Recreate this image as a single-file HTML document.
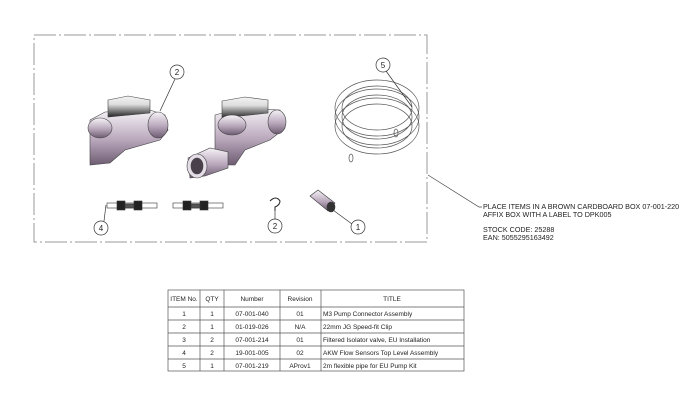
<!DOCTYPE html>
<html><head><meta charset="utf-8"><style>
body{margin:0;background:#fff;width:688px;height:401px;overflow:hidden;font-family:"Liberation Sans",sans-serif}
svg{position:absolute;left:0;top:0}
</style></head><body>
<svg width="688" height="401" viewBox="0 0 688 401" font-family="Liberation Sans, sans-serif">
<defs>
<linearGradient id="pg" x1="0" y1="0" x2="0" y2="1"><stop offset="0" stop-color="#f6f3f7"/><stop offset="0.55" stop-color="#b8a6bb"/><stop offset="1" stop-color="#6e5c72"/></linearGradient>
<linearGradient id="hg" x1="0" y1="0" x2="0" y2="1"><stop offset="0" stop-color="#f4f4f4"/><stop offset="0.4" stop-color="#ddd"/><stop offset="1" stop-color="#222"/></linearGradient>
</defs>
<rect x="34" y="35" width="393" height="207" fill="none" stroke="#999" stroke-width="1" stroke-dasharray="22,3,2,3"/>
<!-- valve 1 -->
<g stroke="#444" stroke-width="0.6">
<path d="M90 120 L105 112 L150 110 L165 115 L168 130 L160 140 L125 150 L110 163 L90 165 Z" fill="url(#pg)"/>
<ellipse cx="158" cy="125" rx="10" ry="13" fill="url(#pg)"/>
<path d="M108 100 L128 96 L150 100 L150 113 L108 117 Z" fill="url(#hg)"/>
<ellipse cx="100" cy="128" rx="12" ry="10" fill="url(#pg)"/>
</g>
<!-- valve 2 -->
<g stroke="#444" stroke-width="0.6">
<path d="M215 115 L240 108 L280 110 L285 128 L270 140 L245 150 L235 165 L215 165 Z" fill="url(#pg)"/>
<ellipse cx="277" cy="122" rx="9" ry="12" fill="url(#pg)"/>
<path d="M222 101 L245 97 L268 100 L268 113 L222 118 Z" fill="url(#hg)"/>
<ellipse cx="232" cy="125" rx="14" ry="10" fill="url(#pg)"/>
<path d="M188 158 L210 148 L228 152 L228 168 L205 176 L190 178 Z" fill="url(#pg)"/>
<ellipse cx="197" cy="166" rx="10" ry="12" fill="#e4dce6"/>
<ellipse cx="197" cy="166" rx="6" ry="8" fill="#4a404c"/>
</g>
<!-- coil -->
<g fill="none" stroke="#555" stroke-width="0.7">
<ellipse cx="377" cy="108" rx="42" ry="28"/>
<ellipse cx="377" cy="108" rx="35" ry="22"/>
<ellipse cx="377" cy="117" rx="42" ry="28"/>
<ellipse cx="377" cy="117" rx="35" ry="22"/>
<ellipse cx="377" cy="126" rx="42" ry="28"/>
<ellipse cx="377" cy="126" rx="35" ry="22"/>
<ellipse cx="396" cy="133" rx="2" ry="4"/>
<ellipse cx="351" cy="158" rx="2" ry="4"/>
</g>
<!-- sensors -->
<g stroke="#333" stroke-width="0.6">
<rect x="107" y="203" width="50" height="5" fill="#fff"/>
<rect x="117" y="201" width="8" height="9" fill="#222"/>
<rect x="134" y="201" width="8" height="9" fill="#222"/>
<rect x="125" y="204" width="9" height="4" fill="#555"/>
<rect x="173" y="203" width="50" height="5" fill="#fff"/>
<rect x="183" y="201" width="8" height="9" fill="#222"/>
<rect x="200" y="201" width="8" height="9" fill="#222"/>
<rect x="191" y="204" width="9" height="4" fill="#555"/>
</g>
<path d="M270 201 Q276 195 280 201 Q280 205 275 207 L275 211" fill="none" stroke="#222" stroke-width="1"/>
<!-- connector -->
<g stroke="#333" stroke-width="0.6">
<path d="M310 196 L318 190 L335 203 L328 211 Z" fill="url(#pg)"/>
<ellipse cx="331" cy="207" rx="4" ry="5" fill="#333"/>
</g>
<!-- balloons -->
<g fill="#fff" stroke="#333" stroke-width="0.7" font-size="8" text-anchor="middle">
<line x1="175" y1="79" x2="160" y2="111"/>
<line x1="386" y1="71" x2="412" y2="107"/>
<line x1="104" y1="221" x2="106" y2="205"/>
<line x1="275" y1="219" x2="275" y2="210"/>
<line x1="352" y1="224" x2="333" y2="210"/>
<circle cx="177" cy="72" r="7"/><text x="177" y="75" fill="#222" stroke="none">2</text>
<circle cx="383" cy="65" r="7"/><text x="383" y="68" fill="#222" stroke="none">5</text>
<circle cx="101" cy="228" r="7"/><text x="101" y="231" fill="#222" stroke="none">4</text>
<circle cx="275" cy="226" r="7"/><text x="275" y="229" fill="#222" stroke="none">2</text>
<circle cx="358" cy="227" r="7"/><text x="358" y="230" fill="#222" stroke="none">1</text>
</g>
<polyline points="428,175 479,207 482,207" fill="none" stroke="#444" stroke-width="0.7"/>
<g font-size="7.2" fill="#222">
<text x="483" y="209">PLACE ITEMS IN A BROWN CARDBOARD BOX 07-001-220</text>
<text x="483" y="217">AFFIX BOX WITH A LABEL TO DPK005</text>
<text x="483" y="232">STOCK CODE: 25288</text>
<text x="483" y="240">EAN: 5055295163492</text>
</g>
<!-- table -->
<g stroke="#555" stroke-width="0.7" fill="none">
<rect x="168" y="290" width="296" height="81"/>
<line x1="168" y1="307" x2="464" y2="307"/>
<line x1="168" y1="320" x2="464" y2="320"/>
<line x1="168" y1="333" x2="464" y2="333"/>
<line x1="168" y1="346" x2="464" y2="346"/>
<line x1="168" y1="359" x2="464" y2="359"/>
<line x1="200" y1="290" x2="200" y2="371"/>
<line x1="224" y1="290" x2="224" y2="371"/>
<line x1="280" y1="290" x2="280" y2="371"/>
<line x1="321" y1="290" x2="321" y2="371"/>
</g>
<g font-size="6.5" fill="#222" text-anchor="middle">
<text x="184" y="301">ITEM No.</text><text x="212" y="301">QTY</text><text x="252" y="301">Number</text><text x="300" y="301">Revision</text><text x="392" y="301">TITLE</text>
<text x="184" y="316">1</text><text x="212" y="316">1</text><text x="252" y="316">07-001-040</text><text x="300" y="316">01</text>
<text x="184" y="329">2</text><text x="212" y="329">1</text><text x="252" y="329">01-019-026</text><text x="300" y="329">N/A</text>
<text x="184" y="342">3</text><text x="212" y="342">2</text><text x="252" y="342">07-001-214</text><text x="300" y="342">01</text>
<text x="184" y="355">4</text><text x="212" y="355">2</text><text x="252" y="355">19-001-005</text><text x="300" y="355">02</text>
<text x="184" y="368">5</text><text x="212" y="368">1</text><text x="252" y="368">07-001-219</text><text x="300" y="368">AProv1</text>
</g>
<g font-size="6.5" fill="#222">
<text x="323" y="316">M3 Pump Connector Assembly</text>
<text x="323" y="329">22mm JG Speed-fit Clip</text>
<text x="323" y="342">Filtered Isolator valve, EU Installation</text>
<text x="323" y="355">AKW Flow Sensors Top Level Assembly</text>
<text x="323" y="368">2m flexible pipe for EU Pump Kit</text>
</g>
</svg>
</body></html>
